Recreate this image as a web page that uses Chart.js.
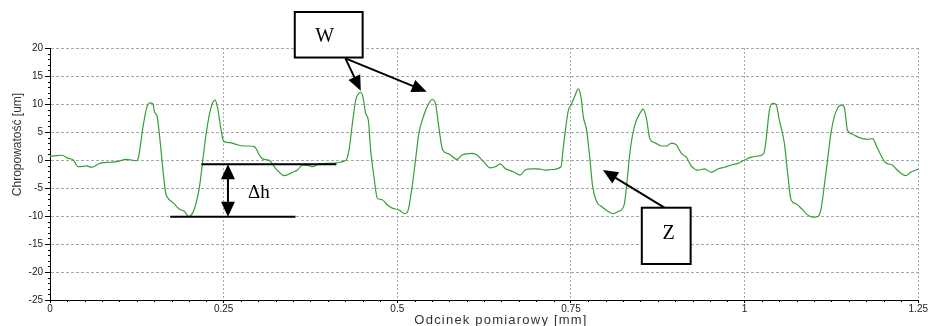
<!DOCTYPE html>
<html>
<head>
<meta charset="utf-8">
<script src="https://cdn.jsdelivr.net/npm/chart.js@4/dist/chart.umd.min.js"></script>
<style>
html,body{margin:0;padding:0;background:#fff;}
#wrap{width:928px;height:326px;}
</style>
</head>
<body>
<div id="wrap"><canvas id="c" width="928" height="326"></canvas></div>
<script>
// ---- data ----
const positionsMm = [
0,0.0024,0.0167,0.0263,0.0335,0.0407,0.0526,0.0598,0.0718,0.0861,0.0957,0.110,0.1244,0.1268,0.1339,0.1387,0.1435,0.1483,0.1507,0.154,0.1579,0.1626,0.1665,0.1698,0.177,0.1866,0.1937,0.1995,0.2057,0.2105,0.2153,0.22,0.2248,0.2296,0.2344,0.2378,0.2416,0.2464,0.2497,0.2583,0.2679,0.2775,0.287,0.2942,0.3014,0.3062,0.3157,0.3229,0.3301,0.3373,0.3492,0.3564,0.3636,
0.3731,0.3779,0.3875,0.4018,0.4258,0.4305,0.4353,0.4401,0.4439,0.4473,0.4506,0.4545,0.4583,0.4616,0.4664,0.4712,0.4784,0.4855,0.4927,0.5023,0.5109,0.5157,0.5214,0.5262,0.531,0.5382,0.5454,0.5501,0.5549,0.5597,0.5654,0.574,0.586,0.5932,0.6075,0.6147,0.6243,0.6338,0.641,0.6482,0.6554,0.6673,0.6769,0.6841,0.6936,0.7032,0.7128,0.7223,
0.7357,0.7391,0.7463,0.7501,0.7549,0.7606,0.7645,0.7678,0.7726,0.7774,0.7812,0.7869,0.7941,0.8037,0.8108,0.818,0.8266,0.83,0.8348,0.8395,0.8443,0.8491,0.8539,0.8587,0.8635,0.8706,0.8802,0.8874,0.8946,0.9017,0.9089,0.9161,0.9233,0.9328,0.9424,0.952,0.9615,0.9711,0.9807,0.9902,0.9998,1.0094,1.0189,1.0276,1.0309,1.0357,1.0405,1.0453,1.05,1.0572,1.062,1.0668,1.074,1.0835,1.0907,1.0979,1.105,1.1098,1.1146,1.1194,1.1242,1.129,1.1337,1.1385,1.1433,1.1481,1.1553,1.1649,1.1768,1.184,1.1912,1.2031,1.2127,1.2199,1.2318,1.239,1.2486,1.25
];
const roughnessUm = [
0.7,0.7,0.85,0.3,0,-1.2,-1.05,-1.3,-0.6,-0.4,-0.3,0.1,-0.1,0.2,5.9,9.1,10.2,10.0,8.5,7.9,4.1,-1.8,-5.9,-6.8,-7.6,-8.8,-9.2,-10.1,-9.4,-7.6,-4.7,0,4.7,8.2,10.3,10.7,9.1,5.3,3.4,3.1,2.8,2.5,2.5,2.4,0.9,0.2,-0.1,-1.2,-2.2,-2.8,-2.2,-1.8,-0.9,
-1.0,-1.2,-0.7,-0.6,-0.1,1.8,6.5,10.7,11.8,12.1,11.2,8.3,7.1,1.8,-3.0,-6.8,-7.1,-8.0,-8.6,-8.9,-9.6,-8.9,-4.7,0,4.7,8.0,10.1,10.8,10.1,5.9,1.8,1.1,0.1,0.9,1.2,0.9,-0.3,-1.4,-1.2,-0.7,-1.5,-2.1,-2.7,-1.8,-1.6,-1.6,-1.8,-1.7,
-1.2,2.4,8.9,9.8,11.2,12.7,11.2,7.7,5.3,0,-4.7,-7.4,-8.3,-9.2,-9.6,-9.2,-8.0,-4.7,1.2,5.0,7.1,8.3,9.1,7.4,3.8,3.1,2.5,2.5,3.0,2.7,1.2,0.5,-1.1,-1.8,-1.6,-2.2,-1.6,-1.3,-0.9,-0.6,0,0.5,0.7,1.2,3.6,8.9,10.1,9.9,7.1,3.0,-2.4,-7.1,-7.8,-8.9,-9.8,-10.2,-10.1,-8.9,-4.7,0,4.7,7.7,9.2,9.8,9.5,5.3,4.6,4.0,3.7,3.8,2.1,-0.5,-0.9,-1.8,-2.8,-2.2,-1.7,-1.6
];
const xTickValues = [0, 0.25, 0.5, 0.75, 1, 1.25];
const yTickValues = [-25, -20, -15, -10, -5, 0, 5, 10, 15, 20];
const xTitle = 'Odcinek pomiarowy [mm]';
const yTitle = 'Chropowatość [um]';

// ---- annotations, in data units ----
const boxW = {x1:0.3524, y1:26.43, x2:0.4501, y2:18.30, label:'W', lx:0.3955, ly:22.2};
const boxZ = {x1:0.8520, y1:-8.52, x2:0.9223, y2:-18.57, label:'Z', lx:0.8907, ly:-13.0};
const arrowsToTip = [
  [0.4253, 18.16, 0.4474, 12.375],
  [0.4253, 18.16, 0.5423, 12.2],
  [0.8846, -8.52, 0.7960, -1.79]
];
const dhLines = [[0.2179, 0.4123, -0.77], [0.1730, 0.3534, -10.12]];
const dhArrow = {x:0.2562, yTop:-0.77, yBot:-10.12, label:'\u0394h', lx:0.3007, ly:-5.8};

const points = positionsMm.map((x, i) => ({x: x, y: roughnessUm[i]}));

function arrowHead(ctx, x0, y0, x1, y1, len, half) {
  const a = Math.atan2(y1 - y0, x1 - x0);
  ctx.beginPath();
  ctx.moveTo(x1, y1);
  ctx.lineTo(x1 - len*Math.cos(a) + half*Math.sin(a), y1 - len*Math.sin(a) - half*Math.cos(a));
  ctx.lineTo(x1 - len*Math.cos(a) - half*Math.sin(a), y1 - len*Math.sin(a) + half*Math.cos(a));
  ctx.closePath();
  ctx.fill();
}
function shaft(ctx, x0, y0, x1, y1, len) {
  const a = Math.atan2(y1 - y0, x1 - x0);
  ctx.beginPath();
  ctx.moveTo(x0, y0);
  ctx.lineTo(x1 - len*0.8*Math.cos(a), y1 - len*0.8*Math.sin(a));
  ctx.stroke();
}

const extras = {
  id: 'extras',
  afterDraw(chart) {
    const ctx = chart.ctx, xs = chart.scales.x, ys = chart.scales.y, ca = chart.chartArea;
    const X = v => xs.getPixelForValue(v), Y = v => ys.getPixelForValue(v);
    ctx.save();
    // minor ticks
    ctx.strokeStyle = '#000'; ctx.lineWidth = 1;
    ctx.beginPath();
    for (let v = -25; v <= 20; v++) {
      if (v % 5 === 0) continue;
      const py = Math.round(Y(v)) + 0.5;
      ctx.moveTo(ca.left - 2, py); ctx.lineTo(ca.left, py);
    }
    for (let k = 0; k <= 50; k++) {
      if (k % 10 === 0) continue;
      const px = Math.round(X(k * 0.025)) + 0.5;
      ctx.moveTo(px, ca.bottom); ctx.lineTo(px, ca.bottom + 2);
    }
    ctx.stroke();
    // axis titles
    ctx.fillStyle = '#333';
    ctx.font = '12px "Liberation Sans", Arial, sans-serif';
    ctx.textAlign = 'center'; ctx.textBaseline = 'middle';
    ctx.save();
    ctx.translate(17.5, 144.5); ctx.rotate(-Math.PI/2);
    ctx.fillText(yTitle, 0, 0);
    ctx.restore();
    ctx.save();
    ctx.font = '13px "Liberation Sans", Arial, sans-serif';
    const w = ctx.measureText(xTitle).width;
    ctx.letterSpacing = ((172 - w) / (xTitle.length - 1)).toFixed(2) + 'px';
    ctx.fillText(xTitle, 501, 320);
    ctx.restore();
    // annotations
    ctx.strokeStyle = '#000'; ctx.fillStyle = '#000'; ctx.lineWidth = 2;
    arrowsToTip.forEach(a => {
      const x0 = X(a[0]), y0 = Y(a[1]), x1 = X(a[2]), y1 = Y(a[3]);
      shaft(ctx, x0, y0, x1, y1, 15);
      arrowHead(ctx, x0, y0, x1, y1, 15, 6.5);
    });
    dhLines.forEach(l => {
      ctx.beginPath(); ctx.moveTo(X(l[0]), Y(l[2])); ctx.lineTo(X(l[1]), Y(l[2])); ctx.stroke();
    });
    const ax = X(dhArrow.x), at = Y(dhArrow.yTop), ab = Y(dhArrow.yBot);
    ctx.beginPath(); ctx.moveTo(ax, at + 10); ctx.lineTo(ax, ab - 10); ctx.stroke();
    arrowHead(ctx, ax, ab, ax, at, 15, 7);
    arrowHead(ctx, ax, at, ax, ab, 15, 7);
    [boxW, boxZ].forEach(b => {
      const x1 = X(b.x1), y1 = Y(b.y1), x2 = X(b.x2), y2 = Y(b.y2);
      ctx.fillStyle = '#fff';
      ctx.fillRect(x1, y1, x2 - x1, y2 - y1);
      ctx.strokeRect(x1, y1, x2 - x1, y2 - y1);
      ctx.fillStyle = '#000';
      ctx.font = '20px "Liberation Serif", "Times New Roman", serif';
      ctx.textAlign = 'center'; ctx.textBaseline = 'middle';
      ctx.fillText(b.label, X(b.lx), Y(b.ly) + 1);
    });
    ctx.font = '19px "Liberation Serif", "Times New Roman", serif';
    ctx.fillText(dhArrow.label, X(dhArrow.lx), Y(dhArrow.ly) + 1);
    ctx.restore();
  }
};

new Chart(document.getElementById('c'), {
  type: 'line',
  data: { datasets: [{
    data: points,
    borderColor: '#359e35',
    borderWidth: 1.2,
    pointRadius: 0,
    cubicInterpolationMode: 'monotone',
    fill: false
  }]},
  options: {
    responsive: false,
    animation: false,
    devicePixelRatio: 1,
    layout: { autoPadding: false, padding: {top: 48, right: 7, left: 0, bottom: 0} },
    plugins: { legend: {display: false}, tooltip: {enabled: false} },
    scales: {
      x: {
        type: 'linear', min: 0, max: 1.25,
        afterBuildTicks: s => { s.ticks = xTickValues.map(v => ({value: v})); },
        afterFit: s => { s.height = 26; },
        ticks: { callback: v => String(v), maxRotation: 0, autoSkip: false, padding: 0,
                 color: '#222', font: {family: '"Liberation Sans", Arial, sans-serif', size: 10} },
        grid: { color: '#a8a8a8', lineWidth: 1, tickColor: '#000', tickLength: 3, tickWidth: 1 },
        border: { display: true, color: '#000', width: 1, dash: [2, 2] }
      },
      y: {
        min: -25, max: 20,
        afterBuildTicks: s => { s.ticks = yTickValues.map(v => ({value: v})); },
        afterFit: s => { s.width = 50; },
        ticks: { callback: v => String(v), padding: 2, autoSkip: false,
                 color: '#222', font: {family: '"Liberation Sans", Arial, sans-serif', size: 10} },
        grid: { color: '#a8a8a8', lineWidth: 1, tickColor: '#000', tickLength: 5, tickWidth: 1 },
        border: { display: true, color: '#000', width: 1, dash: [3, 2] }
      }
    }
  },
  plugins: [extras]
});
</script>
</body>
</html>
